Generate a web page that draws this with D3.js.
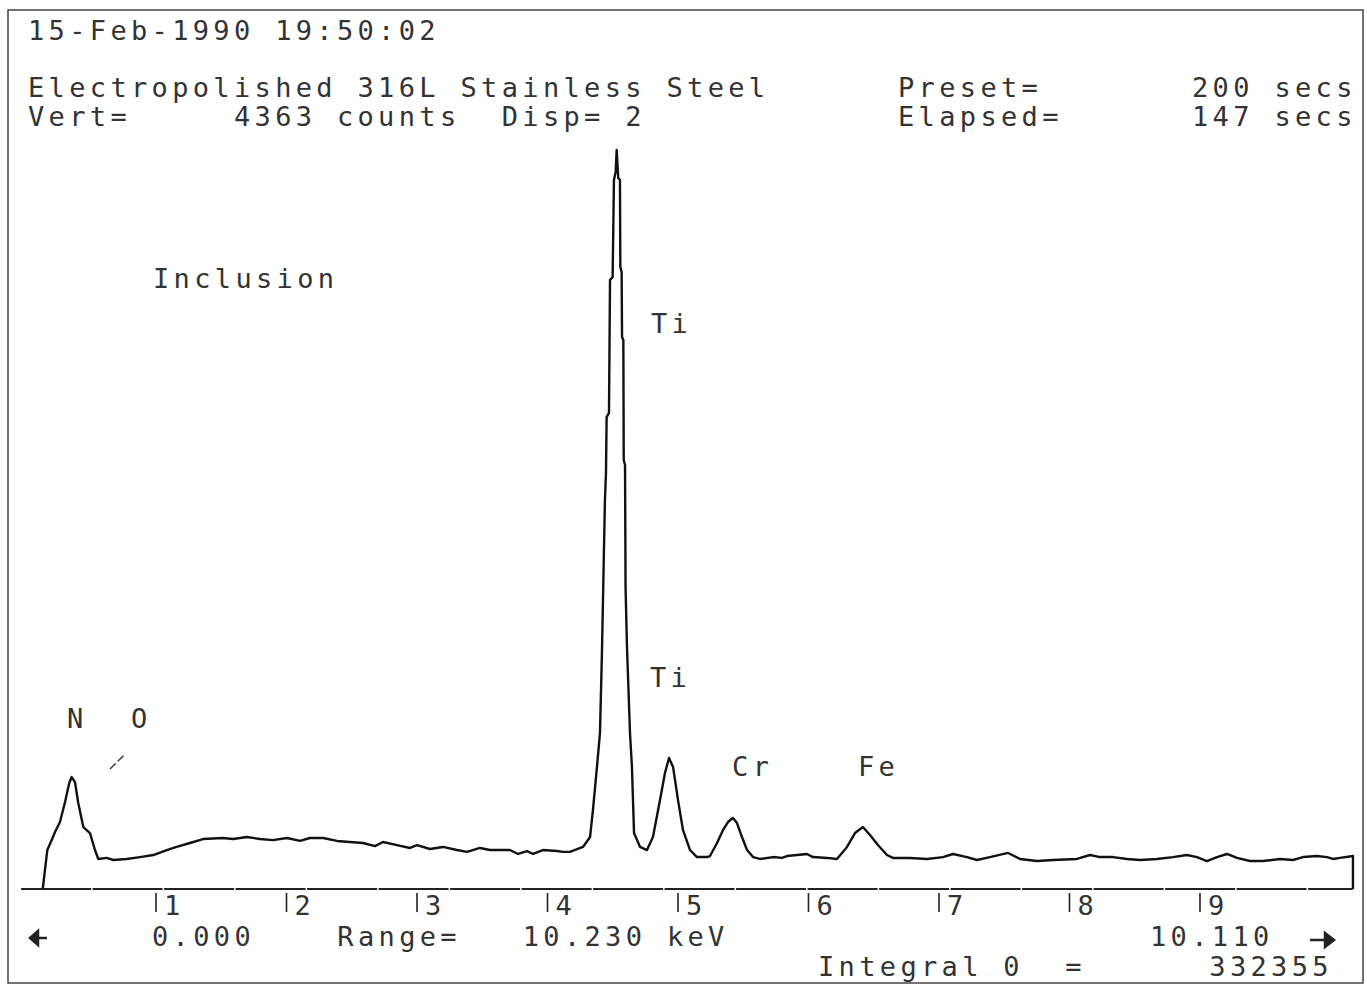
<!DOCTYPE html>
<html>
<head>
<meta charset="utf-8">
<script src="https://cdn.jsdelivr.net/npm/d3@7"></script>
<style>
  body { margin: 0; background: #fff; }
  svg text {
    font-family: "DejaVu Sans Mono", "Liberation Mono", monospace;
    font-size: 27px;
    letter-spacing: 4.34px;
    fill: #333;
    white-space: pre;
  }
</style>
</head>
<body>
<script>
// spectrum: energy (keV) and counts per channel
const energy = [
  0.136, 0.153, 0.171, 0.205, 0.230, 0.268, 0.307, 0.339, 0.358, 0.383,
  0.408, 0.447, 0.498, 0.536, 0.562, 0.626, 0.677, 0.779, 0.881, 0.983,
  1.086, 1.162, 1.264, 1.364, 1.517, 1.594, 1.701, 1.801, 1.900, 2.008,
  2.107, 2.184, 2.284, 2.391, 2.490, 2.590, 2.682, 2.743, 2.851, 2.950,
  3.004, 3.103, 3.203, 3.310, 3.387, 3.487, 3.563, 3.716, 3.778, 3.847,
  3.893, 3.969, 4.077, 4.123, 4.176, 4.276, 4.330, 4.352, 4.383, 4.406,
  4.421, 4.429, 4.444, 4.452, 4.457, 4.475, 4.483, 4.503, 4.513, 4.526,
  4.534, 4.546, 4.559, 4.562, 4.572, 4.575, 4.585, 4.588, 4.598, 4.602,
  4.613, 4.636, 4.651, 4.667, 4.713, 4.766, 4.812, 4.866, 4.904, 4.935,
  4.966, 5.004, 5.042, 5.096, 5.149, 5.226, 5.249, 5.303, 5.349, 5.387,
  5.425, 5.456, 5.494, 5.533, 5.579, 5.632, 5.732, 5.801, 5.839, 5.916,
  5.992, 6.038, 6.146, 6.222, 6.299, 6.360, 6.421, 6.475, 6.536, 6.605,
  6.651, 6.782, 6.912, 7.034, 7.111, 7.218, 7.295, 7.395, 7.533, 7.625,
  7.755, 7.877, 8.061, 8.161, 8.238, 8.337, 8.444, 8.544, 8.674, 8.797,
  8.904, 8.981, 9.057, 9.134, 9.211, 9.287, 9.387, 9.487, 9.617, 9.716,
  9.793, 9.900, 9.977, 10.023, 10.077, 10.176, 10.176
];
const counts = [
  0, 111, 227, 285, 332, 390, 507, 617, 652, 623,
  501, 361, 326, 227, 175, 181, 169, 175, 186, 198,
  227, 245, 268, 291, 297, 291, 303, 291, 285, 297,
  280, 297, 297, 280, 274, 268, 250, 274, 256, 239,
  256, 233, 245, 227, 216, 239, 227, 227, 204, 221,
  204, 227, 221, 216, 216, 245, 303, 460, 711, 909,
  1375, 1683, 2266, 2423, 2749, 2773, 3547, 3565, 4130, 4177,
  4305, 4142, 4130, 3623, 3594, 3215, 3198, 2499, 2470, 1759,
  1410, 909, 711, 326, 245, 227, 303, 518, 676, 763,
  711, 518, 344, 227, 186, 186, 192, 268, 344, 390,
  414, 384, 303, 227, 186, 175, 186, 181, 192, 198,
  204, 186, 181, 175, 245, 326, 361, 315, 256, 198,
  181, 181, 175, 186, 204, 186, 169, 186, 210, 175,
  163, 169, 175, 198, 186, 186, 175, 169, 175, 186,
  198, 186, 163, 186, 204, 181, 163, 163, 175, 169,
  186, 192, 186, 175, 181, 192, 0
];

const tickKeV = [1, 2, 3, 4, 5, 6, 7, 8, 9];
const fullScale = 4363;
const rangeKeV = 10.23;

const labelText = ["Inclusion", "Ti", "Ti", "Cr", "Fe", "N", "O"];
const labelKeV = [0.981, 4.797, 4.789, 5.418, 6.383, 0.322, 0.812];
const labelCounts = [3501, 3239, 1177, 658, 658, 938, 938];

const headerLeft = [
  "15-Feb-1990 19:50:02",
  "Electropolished 316L Stainless Steel",
  "Vert=     4363 counts  Disp= 2"
];
const headerRight = ["Preset=", "Elapsed="];
const headerRightVal = ["200 secs", "147 secs"];

const width = 1367, height = 987;

const svg = d3.select("body").append("svg")
  .attr("width", width)
  .attr("height", height);

// outer frame of the printout
svg.append("rect")
  .attr("x", 8).attr("y", 10)
  .attr("width", 1355).attr("height", 973)
  .attr("fill", "none")
  .attr("stroke", "#444")
  .attr("stroke-width", 1.5);

const x = d3.scaleLinear().domain([0, rangeKeV]).range([25, 1360]);
const y = d3.scaleLinear().domain([0, fullScale]).range([889, 140]);

// header
svg.append("g").selectAll("text")
  .data(headerLeft)
  .enter().append("text")
  .attr("x", 28)
  .attr("y", (d, i) => [40, 97, 126][i])
  .text(d => d);

svg.append("g").selectAll("text")
  .data(headerRight)
  .enter().append("text")
  .attr("x", 898)
  .attr("y", (d, i) => 97 + i * 29)
  .text(d => d);

svg.append("g").selectAll("text")
  .data(headerRightVal)
  .enter().append("text")
  .attr("x", 1192)
  .attr("y", (d, i) => 97 + i * 29)
  .text(d => d);

// energy axis
svg.append("line")
  .attr("x1", x(-0.03)).attr("x2", x(energy[energy.length - 1]))
  .attr("y1", y(0)).attr("y2", y(0))
  .attr("stroke", "#222")
  .attr("stroke-width", 2.2)
  .attr("stroke-dasharray", "70,1.5");

const axis = svg.append("g")
  .attr("transform", `translate(0, ${y(0) + 4})`)
  .call(d3.axisBottom(x).tickValues(tickKeV).tickSize(19).tickFormat(d3.format("d")));
axis.select(".domain").remove();
axis.selectAll(".tick line").attr("stroke", "#222").attr("stroke-width", 1.6);
axis.selectAll(".tick text")
  .attr("text-anchor", "start")
  .attr("x", 8)
  .attr("y", 22)
  .attr("dy", 0);

// spectrum trace
const line = d3.line()
  .x((d, i) => x(energy[i]))
  .y(d => y(d));

svg.append("path")
  .datum(counts)
  .attr("d", line)
  .attr("fill", "none")
  .attr("stroke", "#111")
  .attr("stroke-width", 2.4)
  .attr("stroke-linejoin", "round");

// peak labels
svg.append("g").selectAll("text")
  .data(labelText)
  .enter().append("text")
  .attr("x", (d, i) => x(labelKeV[i]))
  .attr("y", (d, i) => y(labelCounts[i]))
  .text(d => d);

// little marker under the O label
svg.append("line")
  .attr("x1", x(0.651)).attr("y1", y(699))
  .attr("x2", x(0.759)).attr("y2", y(780))
  .attr("stroke", "#333")
  .attr("stroke-width", 1.4)
  .attr("stroke-dasharray", "8,3");

// footer
svg.append("text").attr("x", 152).attr("y", 946).text("0.000    Range=   10.230 keV");
svg.append("text").attr("x", 1150).attr("y", 946).text("10.110");
svg.append("text").attr("x", 818).attr("y", 976).text("Integral 0  =      332355");

// cursor arrows
svg.append("path")
  .attr("d", "M30,938 L38,931 L38,945 Z M38,938 L47,938")
  .attr("fill", "#222").attr("stroke", "#222").attr("stroke-width", 2.5);
svg.append("path")
  .attr("d", "M1334,940 L1325,933 L1325,947 Z M1310,940 L1325,940")
  .attr("fill", "#222").attr("stroke", "#222").attr("stroke-width", 2.5);
</script>
</body>
</html>
